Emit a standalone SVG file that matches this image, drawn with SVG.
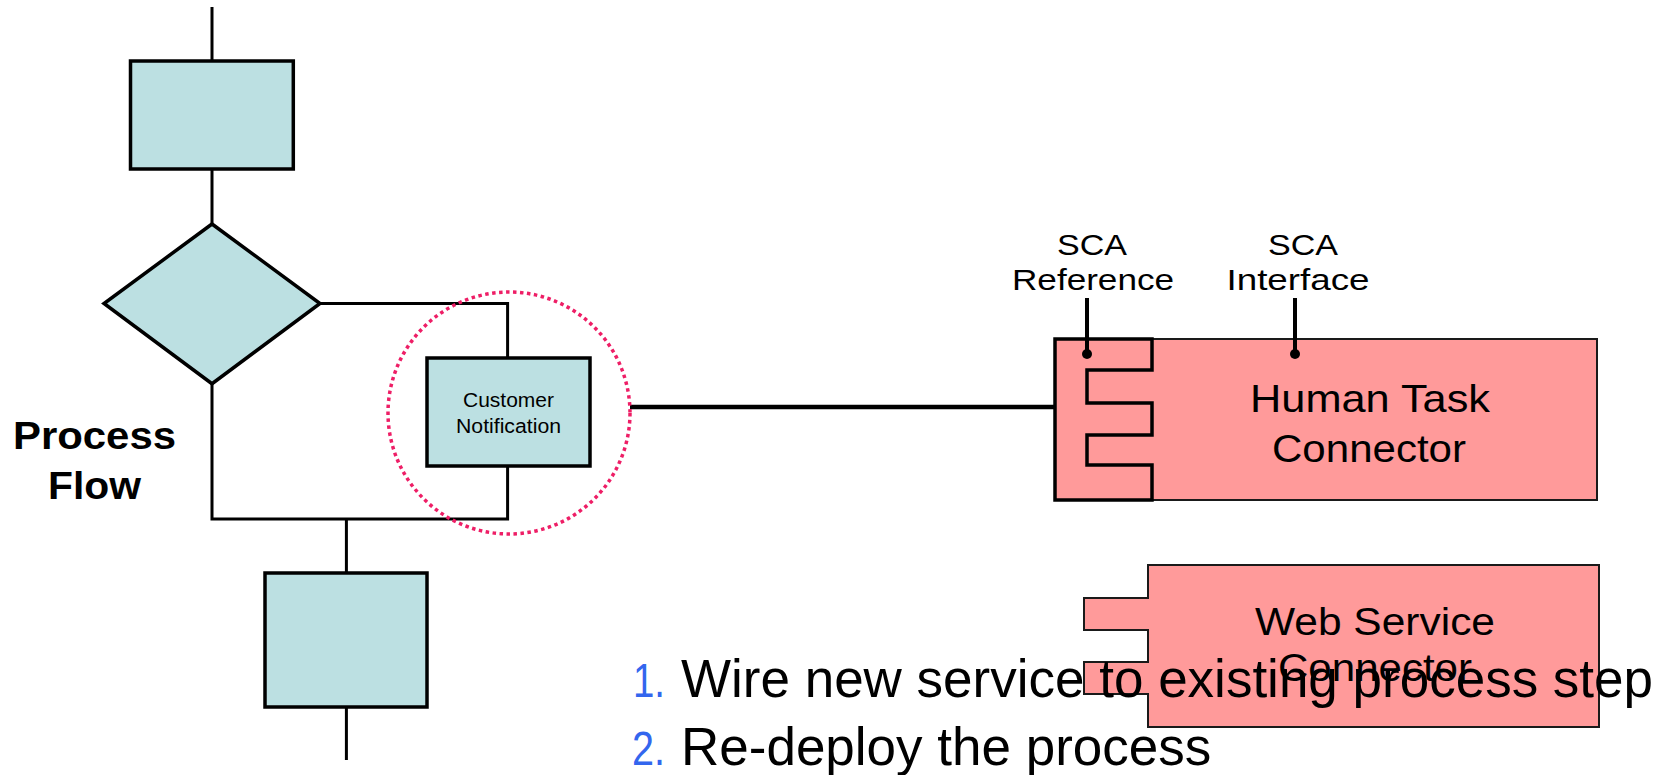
<svg xmlns="http://www.w3.org/2000/svg" width="1662" height="775" viewBox="0 0 1662 775">
<style>
.line{stroke:#000;stroke-width:3;fill:none}
.blue{fill:#bce0e2;stroke:#000;stroke-width:3.5}
.pink{fill:#ff9a9a;stroke:#1a1a1a;stroke-width:2}
.comb{fill:none;stroke:#000;stroke-width:3.5}
.t{font-family:"Liberation Sans",Arial,sans-serif;fill:#000}
.num{font-family:"Liberation Sans",Arial,sans-serif;fill:#3366ee}
</style>
<rect width="1662" height="775" fill="#fff"/>
<g id="connectors">
<path class="line" d="M212,7 V61"/>
<path class="line" d="M212,169 V224"/>
<path class="line" d="M320,303.5 H507.6 V358"/>
<path class="line" d="M507.6,466 V519 H212 V383.7"/>
<path class="line" d="M346.4,519 V573"/>
<path class="line" d="M346.4,707 V760"/>
<path d="M630,407 H1055" stroke="#000" stroke-width="4.5"/>
</g>
<g id="top-task">
<rect class="blue" x="130.5" y="61" width="162.8" height="108"/>
</g>
<g id="decision">
<polygon class="blue" points="212,224 320,303.5 212,383.7 104,303.5"/>
</g>
<g id="customer-notification">
<rect class="blue" x="427" y="358" width="163" height="108"/>
<text class="t" font-size="20" x="508.5" y="407" text-anchor="middle" textLength="91" lengthAdjust="spacingAndGlyphs">Customer</text>
<text class="t" font-size="20" x="508.5" y="433" text-anchor="middle" textLength="105" lengthAdjust="spacingAndGlyphs">Notification</text>
</g>
<g id="bottom-task">
<rect class="blue" x="265" y="573" width="162" height="134"/>
</g>
<g id="highlight">
<circle cx="509" cy="413" r="121" fill="none" stroke="#ee1e66" stroke-width="3.5" stroke-dasharray="3.5 3.5"/>
</g>
<g id="process-flow-label">
<text class="t" font-size="38" font-weight="bold" x="13" y="449" textLength="163" lengthAdjust="spacingAndGlyphs">Process</text>
<text class="t" font-size="38" font-weight="bold" x="48" y="499" textLength="93" lengthAdjust="spacingAndGlyphs">Flow</text>
</g>
<g id="human-task-connector">
<rect class="pink" x="1055" y="339" width="542" height="161"/>
<path class="comb" d="M1055,339 H1152 V370 H1087 V403 H1152 V435 H1087 V465 H1152 V500 H1055 Z"/>
<text class="t" font-size="39" x="1370" y="412" text-anchor="middle" textLength="240" lengthAdjust="spacingAndGlyphs">Human Task</text>
<text class="t" font-size="39" x="1369" y="462" text-anchor="middle" textLength="194" lengthAdjust="spacingAndGlyphs">Connector</text>
</g>
<g id="sca-reference">
<path d="M1087,298 V354" stroke="#000" stroke-width="4"/>
<circle cx="1087" cy="354" r="5"/>
<text class="t" font-size="29" x="1092" y="255" text-anchor="middle" textLength="70" lengthAdjust="spacingAndGlyphs">SCA</text>
<text class="t" font-size="29" x="1093" y="290" text-anchor="middle" textLength="162" lengthAdjust="spacingAndGlyphs">Reference</text>
</g>
<g id="sca-interface">
<path d="M1295,298 V354" stroke="#000" stroke-width="4"/>
<circle cx="1295" cy="354" r="5"/>
<text class="t" font-size="29" x="1303" y="255" text-anchor="middle" textLength="70" lengthAdjust="spacingAndGlyphs">SCA</text>
<text class="t" font-size="29" x="1298" y="290" text-anchor="middle" textLength="143" lengthAdjust="spacingAndGlyphs">Interface</text>
</g>
<g id="web-service-connector">
<path class="pink" d="M1148,565 H1599 V727 H1148 V694 H1084 V662 H1148 V630 H1084 V598 H1148 Z"/>
<text class="t" font-size="38" x="1375" y="635" text-anchor="middle" textLength="240" lengthAdjust="spacingAndGlyphs">Web Service</text>
<text class="t" font-size="38" x="1375" y="681" text-anchor="middle" textLength="194" lengthAdjust="spacingAndGlyphs">Connector</text>
</g>
<g id="steps">
<text class="num" font-size="49" x="633" y="697" textLength="32" lengthAdjust="spacingAndGlyphs">1.</text>
<text class="t" font-size="53" x="681" y="697">Wire new service to existing process step</text>
<text class="num" font-size="49" x="632" y="765" textLength="33" lengthAdjust="spacingAndGlyphs">2.</text>
<text class="t" font-size="53" x="681" y="765">Re-deploy the process</text>
</g>
</svg>
